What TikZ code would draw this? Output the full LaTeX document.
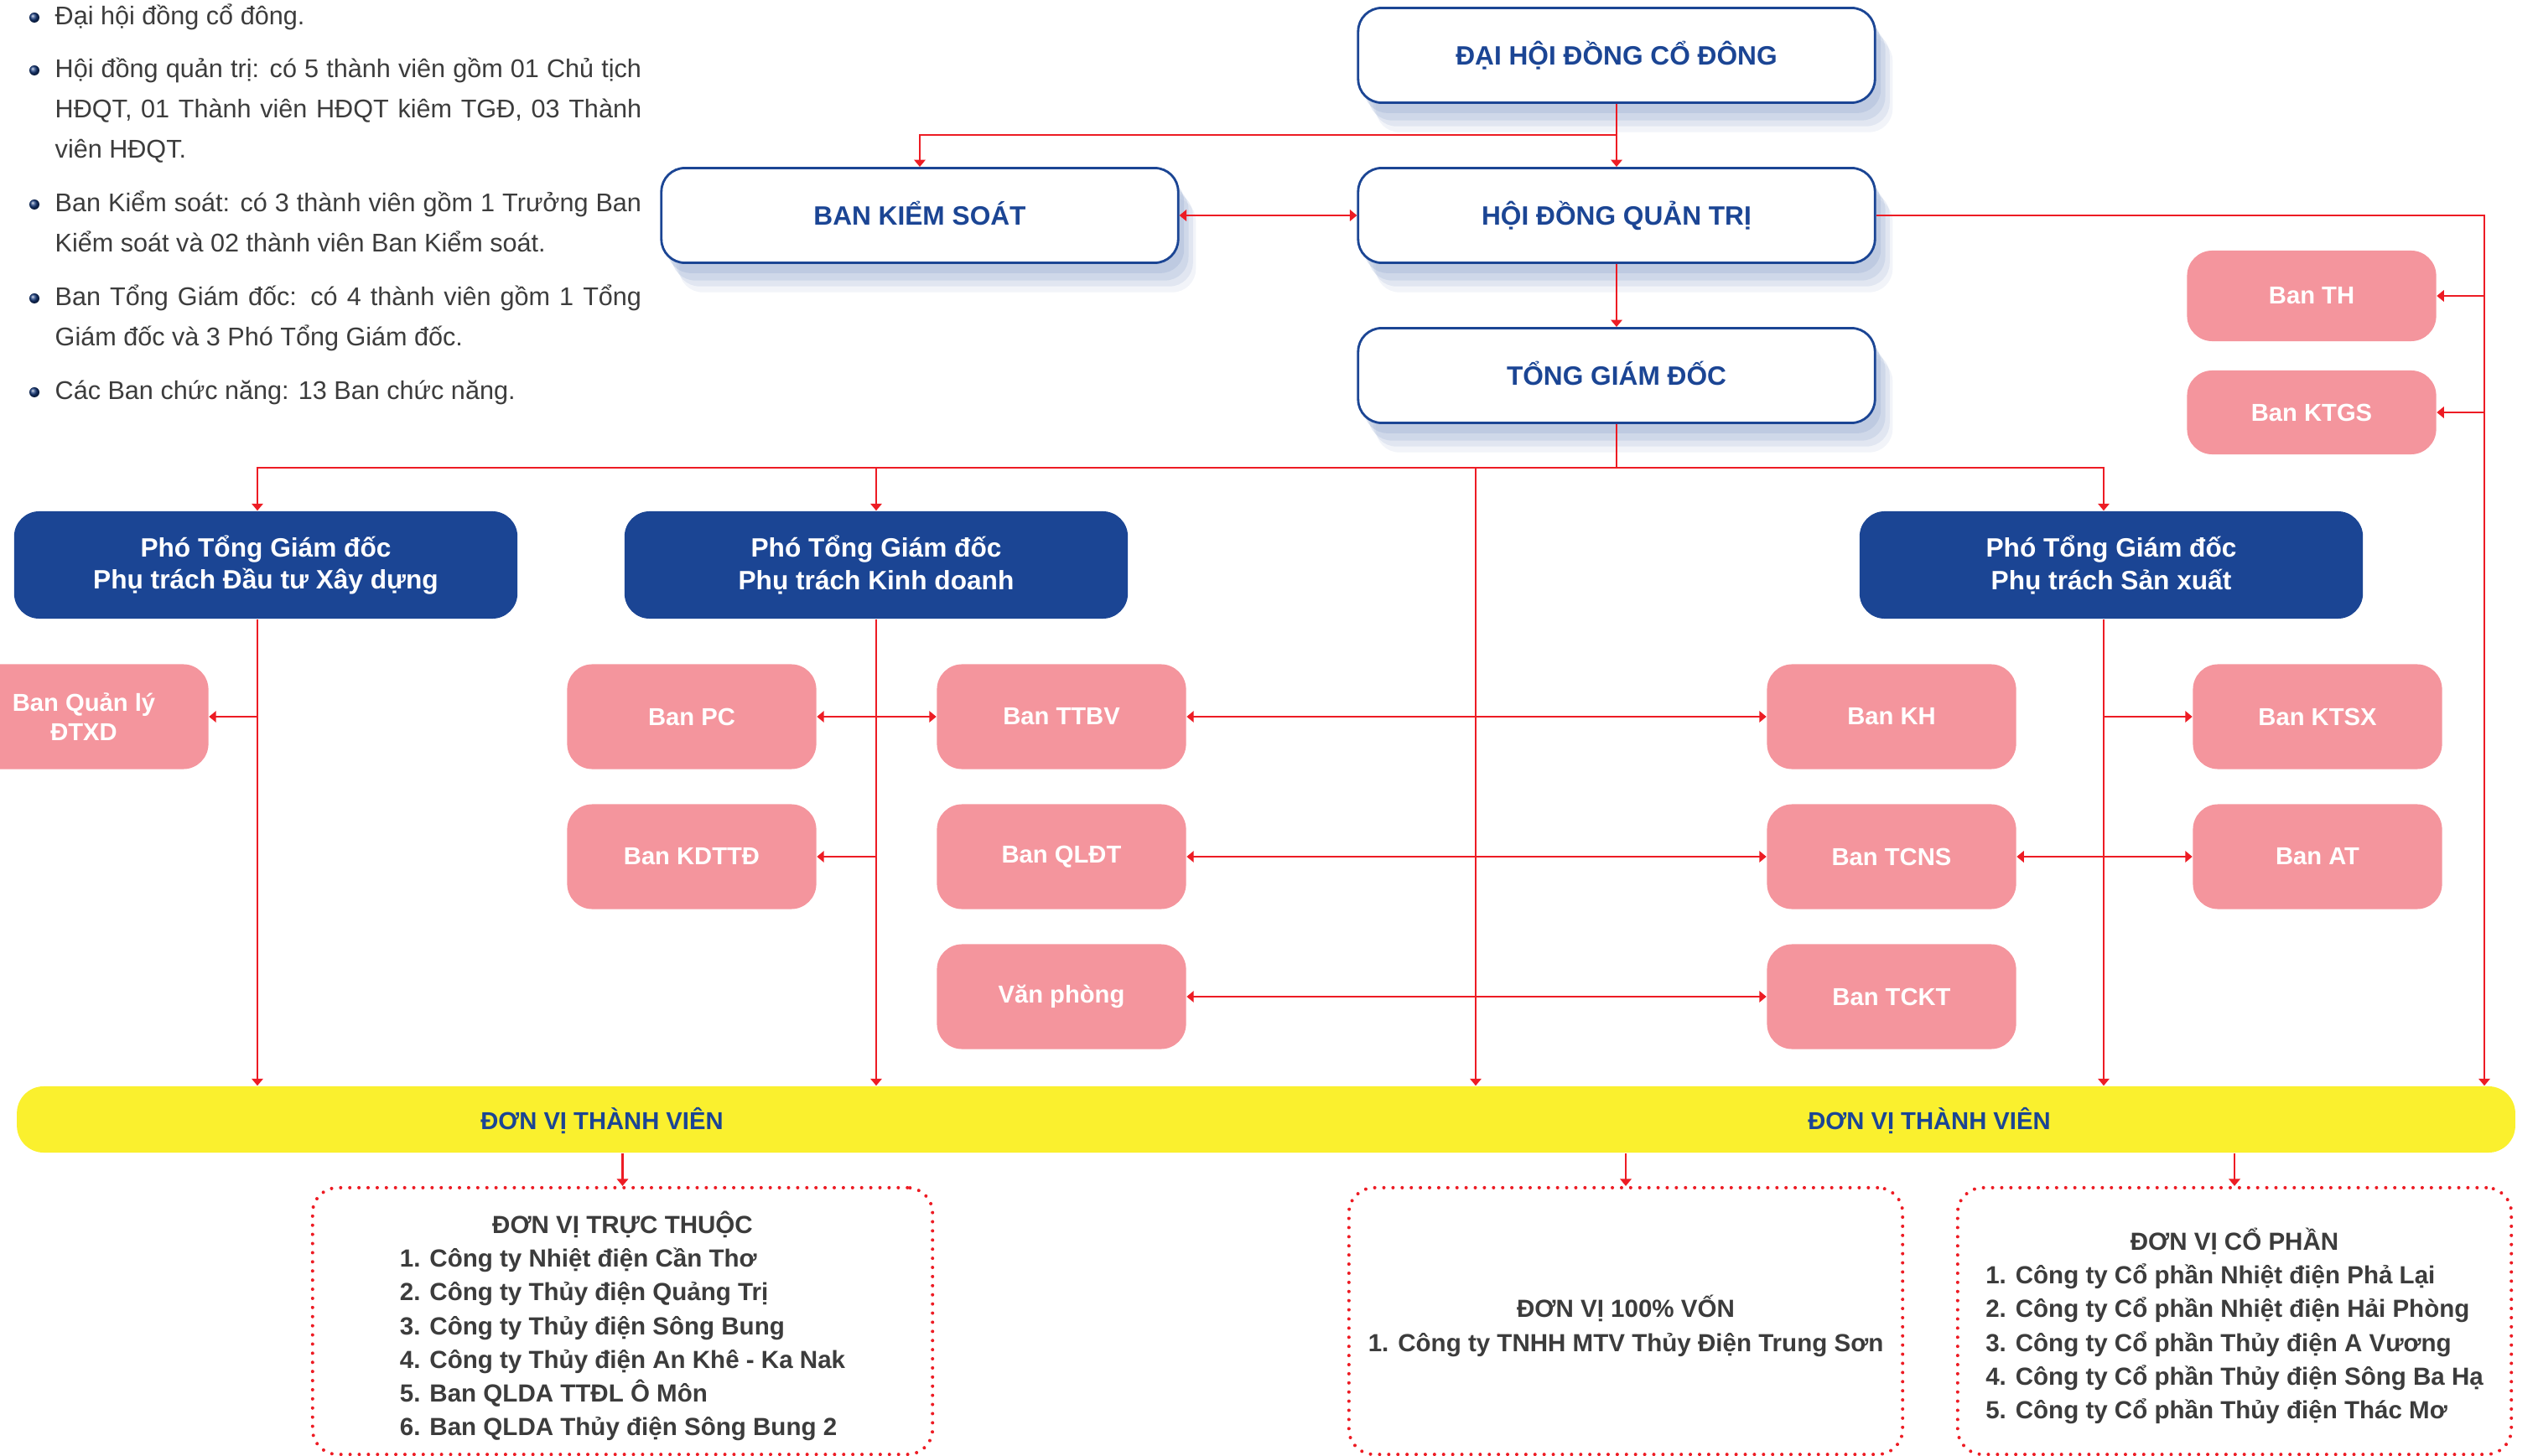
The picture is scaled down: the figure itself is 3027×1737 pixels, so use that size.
\documentclass[tikz,border=0pt]{standalone}
\usepackage{fontspec}
\setmainfont{Liberation Sans}
\usetikzlibrary{arrows.meta,shadows}
\definecolor{blueline}{HTML}{1B4594}
\definecolor{pinkfill}{HTML}{F4959D}
\definecolor{redline}{HTML}{ED1C24}
\definecolor{baryellow}{HTML}{FAF02E}
\definecolor{shadowblue}{HTML}{A5B6D6}
\definecolor{greytext}{HTML}{3C3C3C}
\newcommand{\arrowlink}[2]{
  \draw [wire,->] (#1) -- (#2)
}
\newcommand{\bothlink}[2]{
  \draw [wire,<->] (#1) -- (#2)
}
\newcommand{\fullline}[1]{\makebox[6.99cm][s]{#1}}
\tikzset{
  board/.style={draw=blueline, line width=0.8pt, fill=white, rounded corners=0.28cm,
    minimum width=6.16cm, minimum height=1.13cm, text=blueline,
    text height=6.6pt, text depth=0pt,
    font=\fontsize{9}{11}\selectfont\bfseries,
    general shadow={shadow xshift=6pt, shadow yshift=-10pt, fill=shadowblue, opacity=.15},
    general shadow={shadow xshift=5pt, shadow yshift=-8pt, fill=shadowblue, opacity=.22},
    general shadow={shadow xshift=3.5pt, shadow yshift=-6pt, fill=shadowblue, opacity=.3},
    general shadow={shadow xshift=2pt, shadow yshift=-3.5pt, fill=shadowblue, opacity=.4}},
  deputy/.style={fill=blueline, rounded corners=0.3cm, minimum width=6cm,
    minimum height=1.28cm, text=white, align=center,
    font=\fontsize{9}{11}\selectfont\bfseries},
  dept/.style={fill=pinkfill, rounded corners=0.3cm, minimum width=2.97cm,
    minimum height=1.25cm, text=white, align=center,
    font=\fontsize{8.3}{10}\selectfont\bfseries},
  unitbar/.style={fill=baryellow, rounded corners=0.32cm, minimum width=29.78cm,
    minimum height=0.79cm},
  barlabel/.style={text=blueline, font=\fontsize{8.3}{10}\selectfont\bfseries},
  unitbox/.style={draw=redline, line width=1.15pt, dash pattern=on 0pt off 3.1pt,
    line cap=round, rounded corners=0.3cm, minimum height=3.18cm},
  unittext/.style={text=greytext, inner sep=0pt,
    font=\fontsize{8.4}{11.4}\selectfont\bfseries},
  wire/.style={draw=redline, line width=0.75pt},
  note/.style={anchor=base west, inner sep=0pt, text=greytext,
    font=\fontsize{8.7}{13.7}\selectfont},
  listdot/.style={circle, inner sep=0pt, minimum size=0.12cm, ball color=blueline!85!black}
}

\begin{document}
\begin{tikzpicture}[x=0.01cm, y=-0.01cm, >={Triangle[length=2.4pt,width=3.8pt]}]
\useasboundingbox (0,0) rectangle (3027,1737);
\clip (0,0) rectangle (3027,1737);

% notes on the left
\node [listdot] (d1) at (41,21) {};
\node [note] (n1) at (65,30) {Đại hội đồng cổ đông.};
\node [listdot] (d2) at (41,84) {};
\node [note] (n2a) at (65,93) {\fullline{Hội đồng quản trị: có 5 thành viên gồm 01 Chủ tịch}};
\node [note] (n2b) at (65,141) {\fullline{HĐQT, 01 Thành viên HĐQT kiêm TGĐ, 03 Thành}};
\node [note] (n2c) at (65,189) {viên HĐQT.};
\node [listdot] (d3) at (41,244) {};
\node [note] (n3a) at (65,253) {\fullline{Ban Kiểm soát: có 3 thành viên gồm 1 Trưởng Ban}};
\node [note] (n3b) at (65,301) {Kiểm soát và 02 thành viên Ban Kiểm soát.};
\node [listdot] (d4) at (41,356) {};
\node [note] (n4a) at (65,365) {\fullline{Ban Tổng Giám đốc: có 4 thành viên gồm 1 Tổng}};
\node [note] (n4b) at (65,413) {Giám đốc và 3 Phó Tổng Giám đốc.};
\node [listdot] (d5) at (41,468) {};
\node [note] (n5) at (65,477) {Các Ban chức năng: 13 Ban chức năng.};

% top
\node [board] (dhdcd) at (1928,66) {ĐẠI HỘI ĐỒNG CỔ ĐÔNG};
\node [board] (hdqt) at (1928,257) {HỘI ĐỒNG QUẢN TRỊ};
\node [board] (bks) at (1097,257) {BAN KIỂM SOÁT};
\node [board] (tgd) at (1928,448) {TỔNG GIÁM ĐỐC};

% boards of HDQT
\node [dept, minimum height=1.08cm] (th) at (2757,353) {Ban TH};
\node [dept, minimum height=1cm] (ktgs) at (2757,492) {Ban KTGS};

% deputies
\node [deputy] (ptgd1) at (317,674) {Phó Tổng Giám đốc\\Phụ trách Đầu tư Xây dựng};
\node [deputy] (ptgd2) at (1045,674) {Phó Tổng Giám đốc\\Phụ trách Kinh doanh};
\node [deputy] (ptgd3) at (2518,674) {Phó Tổng Giám đốc\\Phụ trách Sản xuất};

% boards of ptgd1
\node [dept] (qlxd) at (100,855) {Ban Quản lý\\ĐTXD};

% boards of ptgd2
\node [dept] (pc) at (825,855) {Ban PC};
\node [dept] (kdttd) at (825,1022) {Ban KDTTĐ};
\node [dept] (ttbv) at (1266,855) {Ban TTBV};
\node [dept] (qldt) at (1266,1022) {Ban QLĐT};
\node [dept] (vp) at (1266,1189) {Văn phòng};

% boards of ptgd3
\node [dept] (kh) at (2256,855) {Ban KH};
\node [dept] (tcns) at (2256,1022) {Ban TCNS};
\node [dept] (tckt) at (2256,1189) {Ban TCKT};
\node [dept] (ktsx) at (2764,855) {Ban KTSX};
\node [dept] (banat) at (2764,1022) {Ban AT};

% member units
\node [unitbar] (dvtv) at (1510,1335.5) {};
\node [barlabel] (dvtvL) at (718,1337) {ĐƠN VỊ THÀNH VIÊN};
\node [barlabel] (dvtvR) at (2301,1337) {ĐƠN VỊ THÀNH VIÊN};

\node [unitbox, minimum width=7.39cm] (u1) at (742.5,1576) {};
\node [unitbox, minimum width=6.6cm] (u2) at (1939,1576) {};
\node [unitbox, minimum width=6.6cm] (u3) at (2665,1576) {};

\node [unittext] (t1) at ([yshift=-0.08cm]u1.center) {\begin{tabular}{@{}l@{}}
  \multicolumn{1}{@{}c@{}}{ĐƠN VỊ TRỰC THUỘC}\\
  1. Công ty Nhiệt điện Cần Thơ\\
  2. Công ty Thủy điện Quảng Trị\\
  3. Công ty Thủy điện Sông Bung\\
  4. Công ty Thủy điện An Khê - Ka Nak\\
  5. Ban QLDA TTĐL Ô Môn\\
  6. Ban QLDA Thủy điện Sông Bung 2
\end{tabular}};
\node [unittext] (t2) at ([yshift=-0.08cm]u2.center) {\begin{tabular}{@{}c@{}}
  ĐƠN VỊ 100\% VỐN\\
  1. Công ty TNHH MTV Thủy Điện Trung Sơn
\end{tabular}};
\node [unittext] (t3) at ([yshift=-0.08cm]u3.center) {\begin{tabular}{@{}l@{}}
  \multicolumn{1}{@{}c@{}}{ĐƠN VỊ CỔ PHẦN}\\
  1. Công ty Cổ phần Nhiệt điện Phả Lại\\
  2. Công ty Cổ phần Nhiệt điện Hải Phòng\\
  3. Công ty Cổ phần Thủy điện A Vương\\
  4. Công ty Cổ phần Thủy điện Sông Ba Hạ\\
  5. Công ty Cổ phần Thủy điện Thác Mơ
\end{tabular}};

% corners of the lines
\coordinate (split) at (1928,161);
\coordinate (rail) at (2963,257);
\coordinate (bus) at (1928,558);
\coordinate (drop) at (1760,558);
\coordinate (leg1) at (307,558);
\coordinate (leg2) at (1045,558);
\coordinate (leg3) at (2509,558);

% connect top
\arrowlink {dhdcd.south} {hdqt.north};
\draw [wire,->] (split) -| (bks.north);
\bothlink {bks.east} {hdqt.west};
\arrowlink {hdqt.south} {tgd.north};

% connect HDQT to the right
\draw [wire,->] (hdqt.east) -- (rail) -- (rail |- dvtv.north);
\arrowlink {rail |- th.east} {th.east};
\arrowlink {rail |- ktgs.east} {ktgs.east};

% connect TGD
\draw [wire] (tgd.south) -- (bus);
\draw [wire,->] (bus) -- (leg1) -- (leg1 |- ptgd1.north);
\draw [wire,->] (bus) -- (leg2) -- (leg2 |- ptgd2.north);
\draw [wire,->] (bus) -- (leg3) -- (leg3 |- ptgd3.north);
\arrowlink {drop} {drop |- dvtv.north};

% connect deputies
\arrowlink {leg1 |- ptgd1.south} {leg1 |- dvtv.north};
\arrowlink {leg2 |- ptgd2.south} {leg2 |- dvtv.north};
\arrowlink {leg3 |- ptgd3.south} {leg3 |- dvtv.north};

% connect boards
\arrowlink {leg1 |- qlxd.east} {qlxd.east};
\bothlink {pc.east} {ttbv.west};
\arrowlink {leg2 |- kdttd.east} {kdttd.east};
\arrowlink {leg3 |- ktsx.west} {ktsx.west};
\bothlink {tcns.east} {banat.west};
\bothlink {ttbv.east} {kh.west};
\bothlink {qldt.east} {tcns.west};
\bothlink {vp.east} {tckt.west};

% connect member units
\arrowlink {dvtv.south -| u1.north} {u1.north};
\arrowlink {dvtv.south -| u2.north} {u2.north};
\arrowlink {dvtv.south -| u3.north} {u3.north};

\end{tikzpicture}
\end{document}
